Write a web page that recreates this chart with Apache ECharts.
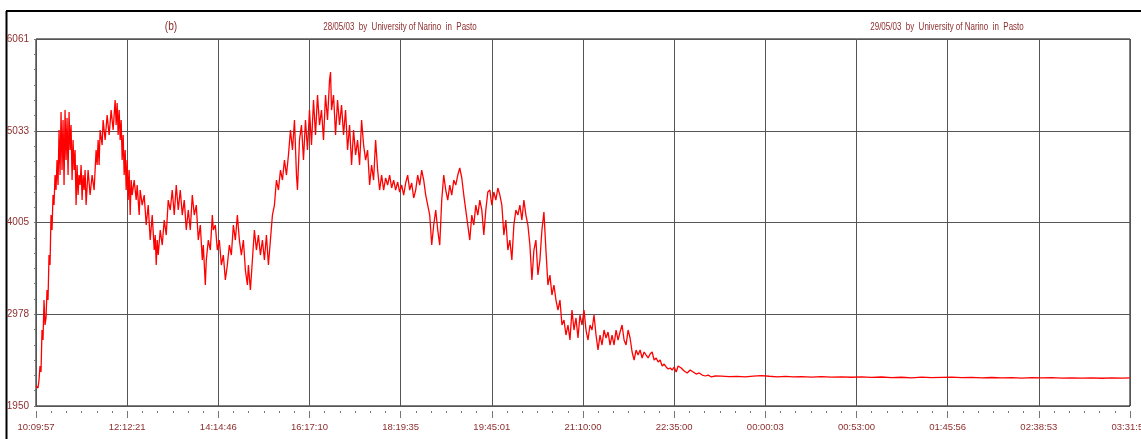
<!DOCTYPE html>
<html>
<head>
<meta charset="utf-8">
<script src="https://cdn.jsdelivr.net/npm/echarts@6/dist/echarts.min.js"></script>
<style>
  html, body { margin: 0; padding: 0; background: #fff; }
  #chart { width: 1141px; height: 439px; }
</style>
</head>
<body>
<div id="chart"></div>
<script>
// time stamps under the 12 divisions (the sampling rate changes, so they are not evenly spaced)
const xLabels = ['10:09:57', '12:12:21', '14:14:46', '16:17:10', '18:19:35', '19:45:01',
  '21:10:00', '22:35:00', '00:00:03', '00:53:00', '01:45:56', '02:38:53', '03:31:50'];
const yTickLabels = ['1950', '2978', '4005', '5033', '6061'];
const headerB = '(b)';
const headerDay1 = '28/05/03  by  University of Narino  in  Pasto';
const headerDay2 = '29/05/03  by  University of Narino  in  Pasto';

// [sample number, counts], 91 samples per division
const trace = [
  [0, 2174], [1, 2196], [2, 2152], [3, 2241], [4, 2398], [5, 2331], [6, 2801], [7, 2689],
  [8, 3137], [9, 2857], [10, 2936], [11, 3249], [12, 3137], [13, 3641], [14, 3529], [15, 4089],
  [16, 3921], [17, 4313], [18, 4201], [19, 4537], [20, 4369], [21, 4705], [22, 4425], [23, 5041],
  [24, 4537], [25, 5243], [26, 4593], [27, 5153], [28, 4425], [29, 5265], [30, 4705], [31, 5176],
  [32, 4537], [33, 5243], [34, 4817], [35, 5097], [36, 4481], [37, 4929], [38, 4593], [39, 4817],
  [40, 4201], [41, 4649], [42, 4313], [43, 4537], [44, 4425], [45, 4649], [46, 4257], [47, 4537],
  [48, 4369], [49, 4593], [50, 4201], [52, 4593], [54, 4313], [56, 4537], [58, 4369], [60, 4817],
  [61, 4649], [62, 4929], [63, 4649], [64, 5041], [66, 4873], [67, 5153], [69, 4929], [71, 5209],
  [73, 4985], [75, 5265], [77, 5041], [79, 5377], [80, 5097], [81, 5344], [82, 4985], [83, 5265],
  [84, 4929], [85, 5153], [86, 4705], [87, 4985], [88, 4537], [89, 4817], [90, 4369], [91, 4705],
  [92, 4257], [93, 4593], [94, 4089], [95, 4481], [96, 4313], [98, 4481], [100, 4257], [101, 4425],
  [103, 4089], [104, 4369], [106, 4201], [108, 4313], [110, 3977], [112, 4201], [114, 3809], [116, 4089],
  [118, 3697], [119, 3865], [120, 3529], [121, 3809], [122, 3641], [124, 3921], [126, 3753], [128, 4033],
  [130, 3865], [132, 4257], [134, 4145], [136, 4369], [138, 4089], [140, 4425], [142, 4145], [144, 4369],
  [146, 4089], [148, 4257], [150, 3921], [152, 4145], [154, 3921], [156, 4313], [158, 4089], [160, 4201],
  [162, 3809], [164, 3977], [166, 3585], [167, 3753], [169, 3305], [170, 3585], [172, 3809], [174, 3697],
  [176, 4089], [177, 3921], [179, 3977], [181, 3697], [183, 3809], [185, 3529], [187, 3641], [189, 3361],
  [191, 3529], [193, 3753], [195, 3641], [197, 3977], [199, 3809], [201, 4089], [203, 3809], [205, 3641],
  [207, 3809], [209, 3473], [211, 3305], [212, 3529], [214, 3249], [216, 3585], [218, 3921], [220, 3697],
  [222, 3865], [224, 3641], [226, 3809], [228, 3585], [230, 3865], [232, 3529], [234, 3809], [236, 4089],
  [238, 4201], [240, 4481], [242, 4369], [244, 4593], [246, 4481], [248, 4705], [250, 4537], [252, 4761],
  [254, 5041], [256, 4817], [258, 5153], [260, 4537], [261, 4369], [263, 4929], [265, 5097], [267, 4705],
  [269, 5153], [271, 4817], [273, 5265], [275, 4873], [277, 5377], [279, 4985], [281, 5433], [283, 5097],
  [285, 5265], [287, 4929], [289, 5433], [291, 5153], [293, 5601], [294, 5691], [295, 5265], [297, 5433],
  [299, 4985], [301, 5377], [303, 5097], [305, 5321], [307, 4985], [309, 5265], [311, 4817], [313, 5097],
  [315, 4649], [317, 5041], [319, 4761], [321, 4929], [323, 4649], [325, 5153], [327, 4873], [329, 4705],
  [331, 4817], [333, 4425], [335, 4649], [337, 4481], [339, 4929], [341, 4593], [343, 4369], [345, 4537],
  [347, 4369], [349, 4504], [351, 4425], [353, 4537], [355, 4392], [357, 4481], [359, 4369], [361, 4459],
  [363, 4347], [365, 4425], [367, 4313], [369, 4448], [371, 4537], [373, 4369], [375, 4448], [377, 4280],
  [379, 4369], [381, 4537], [383, 4425], [385, 4593], [387, 4481], [389, 4313], [391, 4201], [393, 4089],
  [395, 3753], [397, 3977], [399, 4145], [401, 3921], [403, 3753], [405, 4257], [407, 4537], [409, 4369],
  [411, 4257], [413, 4425], [415, 4313], [417, 4481], [419, 4425], [421, 4537], [423, 4616], [425, 4504],
  [427, 4313], [429, 4145], [431, 3977], [433, 3809], [435, 4089], [437, 3977], [439, 4201], [441, 4089],
  [443, 4257], [445, 4145], [447, 3865], [449, 4145], [451, 4347], [453, 4369], [455, 4201], [457, 4347],
  [459, 4257], [461, 4392], [463, 4313], [465, 4201], [467, 3865], [469, 4033], [471, 3697], [473, 3809],
  [475, 3585], [477, 3977], [479, 4145], [481, 4089], [483, 4201], [485, 4033], [487, 4257], [489, 4089],
  [491, 3977], [493, 3753], [495, 3361], [497, 3697], [499, 3809], [501, 3417], [503, 3585], [505, 3921],
  [507, 4123], [509, 3697], [511, 3305], [513, 3417], [515, 3193], [517, 3305], [519, 3137], [521, 3025],
  [523, 3137], [525, 2857], [527, 2913], [529, 2745], [531, 2857], [533, 2689], [535, 3025], [537, 2801],
  [539, 2936], [541, 2712], [543, 2969], [545, 2857], [547, 3025], [549, 2801], [551, 2689], [553, 2857],
  [555, 2801], [557, 2969], [559, 2745], [561, 2577], [563, 2745], [565, 2633], [567, 2801], [569, 2712],
  [571, 2779], [573, 2633], [575, 2745], [577, 2633], [579, 2801], [581, 2689], [583, 2779], [585, 2857],
  [587, 2689], [589, 2633], [591, 2801], [593, 2712], [595, 2555], [597, 2465], [599, 2577], [601, 2521],
  [603, 2577], [605, 2488], [607, 2555], [609, 2521], [611, 2488], [613, 2532], [615, 2555], [617, 2465],
  [619, 2488], [621, 2443], [623, 2465], [625, 2398], [627, 2420], [629, 2387], [631, 2364], [633, 2376],
  [635, 2353], [637, 2387], [639, 2331], [641, 2398], [644, 2376], [647, 2342], [650, 2320], [653, 2353],
  [656, 2331], [659, 2308], [662, 2320], [665, 2297], [668, 2286], [671, 2297], [674, 2275], [678, 2286],
  [684, 2284], [692, 2278], [700, 2282], [708, 2276], [716, 2284], [724, 2290], [732, 2283], [740, 2277],
  [748, 2281], [756, 2276], [764, 2280], [774, 2274], [784, 2279], [794, 2273], [804, 2277], [814, 2272],
  [824, 2276], [834, 2271], [844, 2275], [854, 2268], [864, 2272], [874, 2266], [884, 2274], [894, 2268],
  [904, 2271], [914, 2274], [924, 2267], [934, 2270], [944, 2265], [954, 2269], [964, 2264], [974, 2268],
  [984, 2263], [994, 2267], [1004, 2264], [1014, 2268], [1024, 2262], [1034, 2266], [1044, 2263], [1054, 2266],
  [1064, 2261], [1074, 2265], [1084, 2262], [1092, 2264]
];

const yMin = 1950, yMax = 6061;
const yStep = (yMax - yMin) / 4;
const samplesPerDiv = 91;
const labelColor = '#8e2e2e';
const labelFont = '"Liberation Sans", Arial, sans-serif';

var chart = echarts.init(document.getElementById('chart'), null, { renderer: 'canvas' });

chart.setOption({
  backgroundColor: '#fff',
  animation: false,
  grid: {
    left: 36, right: 11, top: 39, bottom: 33,
    containLabel: false,
    outerBoundsMode: 'none',
    show: true,
    borderColor: '#000',
    borderWidth: 1
  },
  graphic: [
    // outer frame of the figure
    { type: 'line', shape: { x1: 6, y1: 11, x2: 1141, y2: 11 }, style: { stroke: '#000', lineWidth: 2 } },
    { type: 'line', shape: { x1: 6.5, y1: 11, x2: 6.5, y2: 439 }, style: { stroke: '#000', lineWidth: 2 } },
    { type: 'text', x: 171, y: 27, scaleX: 0.85,
      style: { text: headerB, fill: labelColor, font: '12px ' + labelFont, align: 'center', verticalAlign: 'middle' } },
    { type: 'text', x: 400, y: 27, scaleX: 0.76,
      style: { text: headerDay1, fill: labelColor, font: '10.5px ' + labelFont, align: 'center', verticalAlign: 'middle' } },
    { type: 'text', x: 947, y: 27, scaleX: 0.76,
      style: { text: headerDay2, fill: labelColor, font: '10.5px ' + labelFont, align: 'center', verticalAlign: 'middle' } }
  ],
  xAxis: {
    type: 'value',
    min: 0,
    max: samplesPerDiv * 12,
    interval: samplesPerDiv,
    offset: 5,
    axisLine: { show: false },
    axisTick: { show: true, length: 7, lineStyle: { color: '#777' } },
    minorTick: { show: true, splitNumber: 6, length: 2, lineStyle: { color: '#777' } },
    axisLabel: {
      color: labelColor,
      fontFamily: labelFont,
      fontSize: 9.5,
      margin: 11,
      showMaxLabel: true,
      formatter: function (v) { return xLabels[Math.round(v / samplesPerDiv)]; }
    },
    splitLine: { show: true, lineStyle: { color: '#555', width: 1 } }
  },
  yAxis: {
    type: 'value',
    min: yMin,
    max: yMax,
    interval: yStep,
    offset: 3,
    axisLine: { show: false },
    axisTick: { show: true, length: 2, lineStyle: { color: '#777' } },
    minorTick: { show: true, splitNumber: 6, length: 2, lineStyle: { color: '#777' } },
    axisLabel: {
      color: labelColor,
      fontFamily: labelFont,
      fontSize: 10,
      margin: 4,
      formatter: function (v) { return yTickLabels[Math.round((v - yMin) / yStep)]; }
    },
    splitLine: { show: true, lineStyle: { color: '#555', width: 1 } }
  },
  series: [{
    type: 'line',
    data: trace,
    showSymbol: false,
    symbol: 'none',
    sampling: null,
    lineStyle: { color: '#ff0000', width: 1.3 },
    z: 3
  }]
});
</script>
</body>
</html>
